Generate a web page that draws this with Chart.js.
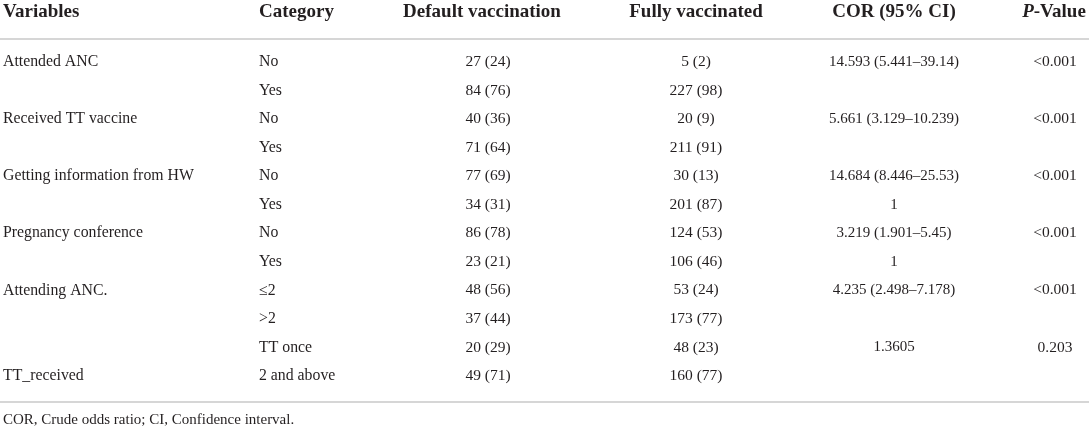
<!DOCTYPE html>
<html lang="en">
<head>
  <meta charset="UTF-8">
  <title>Vaccination table</title>
  <script src="https://cdn.jsdelivr.net/npm/chart.js@4.4.1/dist/chart.umd.min.js"></script>
  <style>
    * { margin: 0; padding: 0; box-sizing: border-box; }
    body { background: #fff; }
    canvas { display: block; }
  </style>
</head>
<body>
  <canvas id="table" width="1089" height="429"></canvas>

  <script>
    // table content
    const headers = ['Variables', 'Category', 'Default vaccination', 'Fully vaccinated', 'COR (95% CI)', 'P-Value'];
    const variables = ['Attended ANC', '', 'Received TT vaccine', '', 'Getting information from HW', '',
      'Pregnancy conference', '', 'Attending ANC.', '', '', 'TT_received'];
    const categories = ['No', 'Yes', 'No', 'Yes', 'No', 'Yes', 'No', 'Yes', '≤2', '>2', 'TT once', '2 and above'];
    const defaultN = [27, 84, 40, 71, 77, 34, 86, 23, 48, 37, 20, 49];
    const defaultPct = [24, 76, 36, 64, 69, 31, 78, 21, 56, 44, 29, 71];
    const fullyN = [5, 227, 20, 211, 30, 201, 124, 106, 53, 173, 48, 160];
    const fullyPct = [2, 98, 9, 91, 13, 87, 53, 46, 24, 77, 23, 77];
    const corEst = [14.593, null, 5.661, null, 14.684, 1, 3.219, 1, 4.235, null, 1.3605, null];
    const corLow = [5.441, null, 3.129, null, 8.446, null, 1.901, null, 2.498, null, null, null];
    const corHigh = [39.14, null, 10.239, null, 25.53, null, 5.45, null, 7.178, null, null, null];
    const pValues = ['<0.001', '', '<0.001', '', '<0.001', '', '<0.001', '', '<0.001', '', '0.203', ''];
    const footnote = 'COR, Crude odds ratio; CI, Confidence interval.';

    // layout
    const colAnchor = [3, 259, 488, 696, 894, 1055];
    const colAlign = ['left', 'left', 'center', 'center', 'center', 'center'];
    const colFont = [15.8, 15.8, 15.5, 15.5, 15, 15.5];
    const rowKeys = variables.map((v, i) => 'row' + (i + 1));
    const textColor = '#231f20';
    const ruleColor = '#c8c8c8';
    const serif = '"Liberation Serif", "Times New Roman", serif';
    const headFont = 'bold 19px ' + serif;
    const headItalic = 'italic bold 19px ' + serif;

    const countText = (n, p) => n + ' (' + p + ')';
    const corText = corEst.map((e, i) => {
      if (e === null) return '';
      if (corLow[i] === null) return String(e);
      return e + ' (' + corLow[i] + '–' + corHigh[i] + ')';
    });

    const columns = [
      variables,
      categories,
      defaultN.map((n, i) => countText(n, defaultPct[i])),
      fullyN.map((n, i) => countText(n, fullyPct[i])),
      corText,
      pValues
    ];

    const tablePlugin = {
      id: 'tableText',
      afterDatasetsDraw(chart) {
        const ctx = chart.ctx;
        const xs = chart.scales.x;
        ctx.save();
        ctx.fillStyle = textColor;
        ctx.textBaseline = 'middle';

        // header row
        headers.forEach((h, c) => {
          const x = xs.getPixelForValue(colAnchor[c]);
          if (h === 'P-Value') {
            ctx.font = headItalic;
            const wP = ctx.measureText('P').width;
            ctx.font = headFont;
            const wRest = ctx.measureText('-Value').width;
            const left = x - 1 - (wP + wRest) / 2;
            ctx.textAlign = 'left';
            ctx.font = headItalic;
            ctx.fillText('P', left, 12);
            ctx.font = headFont;
            ctx.fillText('-Value', left + wP, 12);
          } else {
            ctx.font = headFont;
            ctx.textAlign = colAlign[c];
            ctx.fillText(h, c === 2 ? x - 6 : x, 12);
          }
        });

        // body cells
        chart.data.datasets.forEach((ds, c) => {
          ctx.textAlign = colAlign[c];
          ctx.font = colFont[c] + 'px ' + serif;
          chart.getDatasetMeta(c).data.forEach((pt, i) => {
            const t = columns[c][i];
            if (t) ctx.fillText(t, pt.x, pt.y);
          });
        });

        // rules
        ctx.strokeStyle = ruleColor;
        ctx.lineWidth = 1.5;
        [39, 402].forEach(y => {
          ctx.beginPath();
          ctx.moveTo(0, y);
          ctx.lineTo(chart.width, y);
          ctx.stroke();
        });

        // footnote
        ctx.font = '15px ' + serif;
        ctx.textAlign = 'left';
        ctx.fillText(footnote, 3, 420);
        ctx.restore();
      }
    };

    new Chart(document.getElementById('table'), {
      type: 'scatter',
      data: {
        datasets: columns.map((col, c) => ({
          label: headers[c],
          data: col.map((t, i) => ({ x: colAnchor[c], y: rowKeys[i] })),
          pointRadius: 0,
          pointHoverRadius: 0
        }))
      },
      options: {
        responsive: false,
        animation: false,
        events: [],
        layout: { padding: { left: 0, right: 0, top: 47.7, bottom: 38.7 } },
        scales: {
          x: { type: 'linear', min: 0, max: 1089, display: false },
          y: { type: 'category', labels: rowKeys, offset: true, display: false }
        },
        plugins: {
          legend: { display: false },
          tooltip: { enabled: false }
        }
      },
      plugins: [tablePlugin]
    });
  </script>
</body>
</html>
